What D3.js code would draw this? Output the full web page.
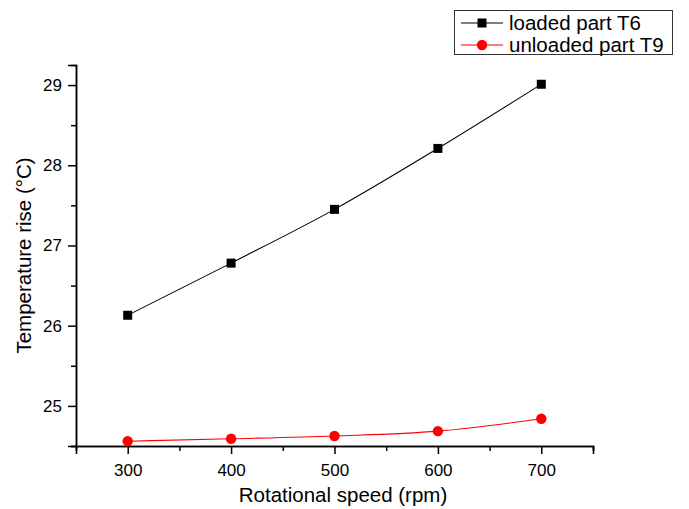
<!DOCTYPE html>
<html>
<head>
<meta charset="utf-8">
<script src="https://cdn.jsdelivr.net/npm/d3@7"></script>
<style>
  html, body { margin: 0; padding: 0; background: #fff; }
  svg { display: block; font-family: "Liberation Sans", Arial, sans-serif; }
</style>
</head>
<body>
<svg id="chart" width="689" height="509"></svg>
<script>
const speeds = [300, 400, 500, 600, 700];
const loadedT6 = [26.13, 26.78, 27.45, 28.21, 29.01];
const unloadedT9 = [24.56, 24.59, 24.625, 24.685, 24.84];
const xTicks = [300, 400, 500, 600, 700];
const xMinorTicks = [250, 350, 450, 550, 650, 750];
const yTicks = [25, 26, 27, 28, 29];
const yMinorTicks = [24.5, 25.5, 26.5, 27.5, 28.5];
const seriesNames = ["loaded part T6", "unloaded part T9"];
const seriesColors = ["#000000", "#ff0000"];

(function () {
const svg = d3.select("#chart");
const mLeft = 76, mRight = 593, mTop = 65, mBottom = 446;

const x = d3.scaleLinear().domain([250, 750]).range([mLeft, mRight]);
const y = d3.scaleLinear().domain([24.5, 29.25]).range([mBottom, mTop]);

const xAxisMinor = d3.axisBottom(x).tickValues(xMinorTicks).tickSize(5).tickFormat("");
const xAxis = d3.axisBottom(x).tickValues(xTicks).tickSize(8).tickPadding(10).tickFormat(d3.format("d"));
const yAxisMinor = d3.axisLeft(y).tickValues(yMinorTicks).tickSize(5).tickFormat("");
const yAxis = d3.axisLeft(y).tickValues(yTicks).tickSize(8).tickPadding(6).tickFormat(d3.format("d"));

function styleAxis(g) {
  g.select(".domain").attr("stroke", "#000").attr("stroke-width", 1.5);
  g.selectAll(".tick line").attr("stroke", "#000").attr("stroke-width", 1.5);
  g.selectAll(".tick text").attr("fill", "#000").style("font-size", "17px")
    .style("font-family", "'Liberation Sans', Arial, sans-serif");
}

svg.append("g").attr("transform", `translate(0,${mBottom})`).call(xAxisMinor).call(styleAxis);
svg.append("g").attr("transform", `translate(0,${mBottom})`).call(xAxis).call(styleAxis);
svg.append("g").attr("transform", `translate(${mLeft},0)`).call(yAxisMinor).call(styleAxis);
svg.append("g").attr("transform", `translate(${mLeft},0)`).call(yAxis).call(styleAxis);

svg.append("text")
  .attr("x", 343).attr("y", 502)
  .attr("text-anchor", "middle")
  .style("font-size", "20.5px")
  .text("Rotational speed (rpm)");

svg.append("text")
  .attr("transform", `translate(31,${(mTop + mBottom) / 2}) rotate(-90)`)
  .attr("text-anchor", "middle")
  .style("font-size", "20.5px")
  .text("Temperature rise (°C)");

const data1 = speeds.map((s, i) => ({ x: s, y: loadedT6[i] }));
const data2 = speeds.map((s, i) => ({ x: s, y: unloadedT9[i] }));

const line = d3.line().x(d => x(d.x)).y(d => y(d.y)).curve(d3.curveMonotoneX);

svg.append("path").datum(data1)
  .attr("fill", "none").attr("stroke", seriesColors[0]).attr("stroke-width", 1.1)
  .attr("d", line);
svg.append("path").datum(data2)
  .attr("fill", "none").attr("stroke", seriesColors[1]).attr("stroke-width", 1.1)
  .attr("d", line);

svg.append("g").selectAll("rect").data(data1).join("rect")
  .attr("x", d => x(d.x) - 4.5).attr("y", d => y(d.y) - 4.5)
  .attr("width", 9).attr("height", 9)
  .attr("fill", seriesColors[0]);

svg.append("g").selectAll("circle").data(data2).join("circle")
  .attr("cx", d => x(d.x)).attr("cy", d => y(d.y)).attr("r", 5.2)
  .attr("fill", seriesColors[1]);

const lg = svg.append("g");
lg.append("rect").attr("x", 454.5).attr("y", 10.5).attr("width", 218).attr("height", 44)
  .attr("fill", "#fff").attr("stroke", "#333").attr("stroke-width", 1);

const rows = [23, 45];
seriesNames.forEach((name, i) => {
  lg.append("line").attr("x1", 461).attr("x2", 503).attr("y1", rows[i]).attr("y2", rows[i])
    .attr("stroke", seriesColors[i]).attr("stroke-width", 1.1);
  if (i === 0) {
    lg.append("rect").attr("x", 482 - 4.5).attr("y", rows[i] - 4.5).attr("width", 9).attr("height", 9)
      .attr("fill", seriesColors[i]);
  } else {
    lg.append("circle").attr("cx", 482).attr("cy", rows[i]).attr("r", 5.2).attr("fill", seriesColors[i]);
  }
  lg.append("text").attr("x", 509).attr("y", rows[i]).attr("dy", "0.35em")
    .style("font-size", "20.5px").attr("fill", "#000").text(name);
});
})();
</script>
</body>
</html>
